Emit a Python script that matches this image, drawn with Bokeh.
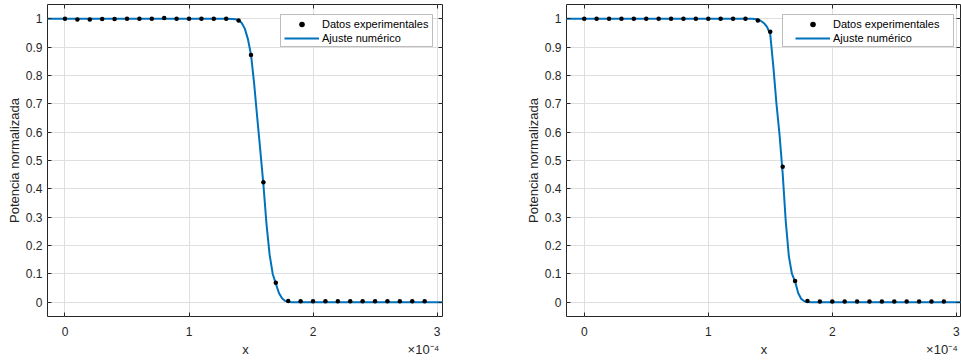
from bokeh.plotting import figure
from bokeh.models import (Range1d, FixedTicker, CustomJSTickFormatter, LinearAxis,
                          BoxAnnotation, Legend, LegendItem)
from bokeh.layouts import row
from bokeh.embed import file_html
from bokeh.resources import INLINE

# ---------------- data (x in units of 1e-4) ----------------
X_SCALE = 1e-4
x_exp = [0.0, 0.1, 0.2, 0.3, 0.4, 0.5, 0.6, 0.7, 0.8, 0.9,
         1.0, 1.1, 1.2, 1.3, 1.4, 1.5, 1.6, 1.7, 1.8, 1.9,
         2.0, 2.1, 2.2, 2.3, 2.4, 2.5, 2.6, 2.7, 2.8, 2.9]

y_exp_left = [1.000, 0.997, 0.997, 0.999, 0.999, 1.000, 1.000, 1.000, 1.002, 1.000,
              1.000, 1.000, 1.000, 1.000, 0.994, 0.872, 0.423, 0.069, 0.005, 0.004,
              0.004, 0.004, 0.004, 0.004, 0.004, 0.004, 0.004, 0.004, 0.004, 0.004]

y_exp_right = [1.000, 1.000, 1.000, 1.000, 1.000, 1.000, 1.000, 1.000, 1.000, 1.000,
               1.000, 1.000, 1.000, 1.000, 0.994, 0.954, 0.478, 0.075, 0.005, 0.003,
               0.003, 0.003, 0.003, 0.003, 0.003, 0.003, 0.003, 0.003, 0.003, 0.003]

x_fit = [-0.2, 1.30, 1.35, 1.375, 1.40, 1.425, 1.45, 1.475, 1.50, 1.525, 1.55,
         1.575, 1.60, 1.625, 1.65, 1.675, 1.70, 1.725, 1.75, 1.775, 1.80, 1.825,
         1.85, 3.1]

y_fit_left = [1.0, 1.0, 0.999, 0.998, 0.995, 0.985, 0.965, 0.928, 0.873, 0.772, 0.652,
              0.535, 0.415, 0.275, 0.168, 0.100, 0.066, 0.033, 0.014, 0.005, 0.002, 0.0005,
              0.0, 0.0]

y_fit_right = [1.0, 1.0, 1.0, 0.999, 0.997, 0.992, 0.984, 0.970, 0.945, 0.830, 0.700,
               0.590, 0.455, 0.285, 0.162, 0.100, 0.074, 0.033, 0.012, 0.004, 0.001, 0.0003,
               0.0, 0.0]

x_ticks = [0, 1, 2, 3]
y_ticks = [0.0, 0.1, 0.2, 0.3, 0.4, 0.5, 0.6, 0.7, 0.8, 0.9, 1.0]

legend_labels = ["Datos experimentales", "Ajuste numérico"]
x_label = "x"
x_multiplier = "×10⁻⁴"
y_label = "Potencia normalizada"

FONT = "Liberation Sans"
AX = "#262626"
BLUE = "#0072BD"
NB = "\u00a0"


def make_panel(y_exp, y_fit, width, b_left, b_right, xr, leg_loc, box):
    p = figure(width=width, height=360,
               min_border_left=b_left, min_border_right=b_right,
               min_border_top=4, min_border_bottom=44,
               x_range=Range1d(xr[0] * X_SCALE, xr[1] * X_SCALE),
               y_range=Range1d(-0.05, 1.05),
               output_backend="svg", toolbar_location=None,
               background_fill_color="white", border_fill_color="white")
    p.outline_line_color = AX
    p.outline_line_width = 1

    xt = FixedTicker(ticks=[t * X_SCALE for t in x_ticks])
    yt = FixedTicker(ticks=y_ticks)

    xa = p.below[0]
    ya = p.left[0]
    xa.ticker = xt
    ya.ticker = yt
    xa.formatter = CustomJSTickFormatter(code="return (tick*1e4).toFixed(0);")
    ya.formatter = CustomJSTickFormatter(code="return String(Math.round(tick*10)/10);")
    # "x" centred under the frame, multiplier flush with the frame's right edge
    xa.axis_label = NB * 53 + x_label + NB * 44 + x_multiplier
    ya.axis_label = y_label
    for ax, st, lst in ((xa, 10, 3), (ya, 5, 1)):
        ax.axis_line_color = None
        ax.major_tick_in = 4
        ax.major_tick_out = 0
        ax.major_tick_line_color = AX
        ax.minor_tick_line_color = None
        ax.major_label_text_font = FONT
        ax.major_label_text_font_size = "12px"
        ax.major_label_text_color = AX
        ax.major_label_standoff = st
        ax.axis_label_text_font = FONT
        ax.axis_label_text_font_size = "13px"
        ax.axis_label_text_font_style = "normal"
        ax.axis_label_text_color = AX
        ax.axis_label_standoff = lst

    blank = CustomJSTickFormatter(code="return '';")
    for loc, tk in (("above", xt), ("right", yt)):
        ax = LinearAxis(ticker=tk, formatter=blank, major_label_text_font_size="0px",
                        major_tick_in=4, major_tick_out=0, major_label_standoff=0,
                        major_tick_line_color=AX, minor_tick_line_color=None,
                        axis_line_color=None)
        p.add_layout(ax, loc)

    p.xgrid.ticker = xt
    p.ygrid.ticker = yt
    p.grid.grid_line_color = "#dfdfdf"
    p.grid.grid_line_width = 1

    # legend frame
    p.add_layout(BoxAnnotation(left=box[0], right=box[1], bottom=box[2], top=box[3],
                               left_units="screen", right_units="screen",
                               bottom_units="screen", top_units="screen",
                               fill_color="white", fill_alpha=1.0,
                               line_color=AX, line_width=1, level="annotation"))

    r_fit = p.line([v * X_SCALE for v in x_fit], y_fit, line_width=2, color=BLUE)
    r_pts = p.scatter([v * X_SCALE for v in x_exp], y_exp, size=4.5,
                      fill_color="black", line_color=None)

    leg = Legend(items=[LegendItem(label=legend_labels[0], renderers=[r_pts]),
                        LegendItem(label=legend_labels[1], renderers=[r_fit])],
                 location=leg_loc, margin=0, padding=0, spacing=-2,
                 glyph_width=35, glyph_height=14,
                 label_standoff=3,
                 label_text_font=FONT, label_text_font_size="11px",
                 label_text_color="black",
                 border_line_color=None,
                 background_fill_alpha=0.0)
    p.add_layout(leg)
    return p


p1 = make_panel(y_exp_left, y_fit_left, 480, 47, 38, (-0.141, 3.044),
                (237, 271), (233, 385, 270, 302))
p2 = make_panel(y_exp_right, y_fit_right, 481, 86, 1, (-0.143, 3.034),
                (229, 271), (216, 387, 270, 302))

layout = row(p1, p2)
open("out.html", "w").write(file_html(layout, INLINE))
